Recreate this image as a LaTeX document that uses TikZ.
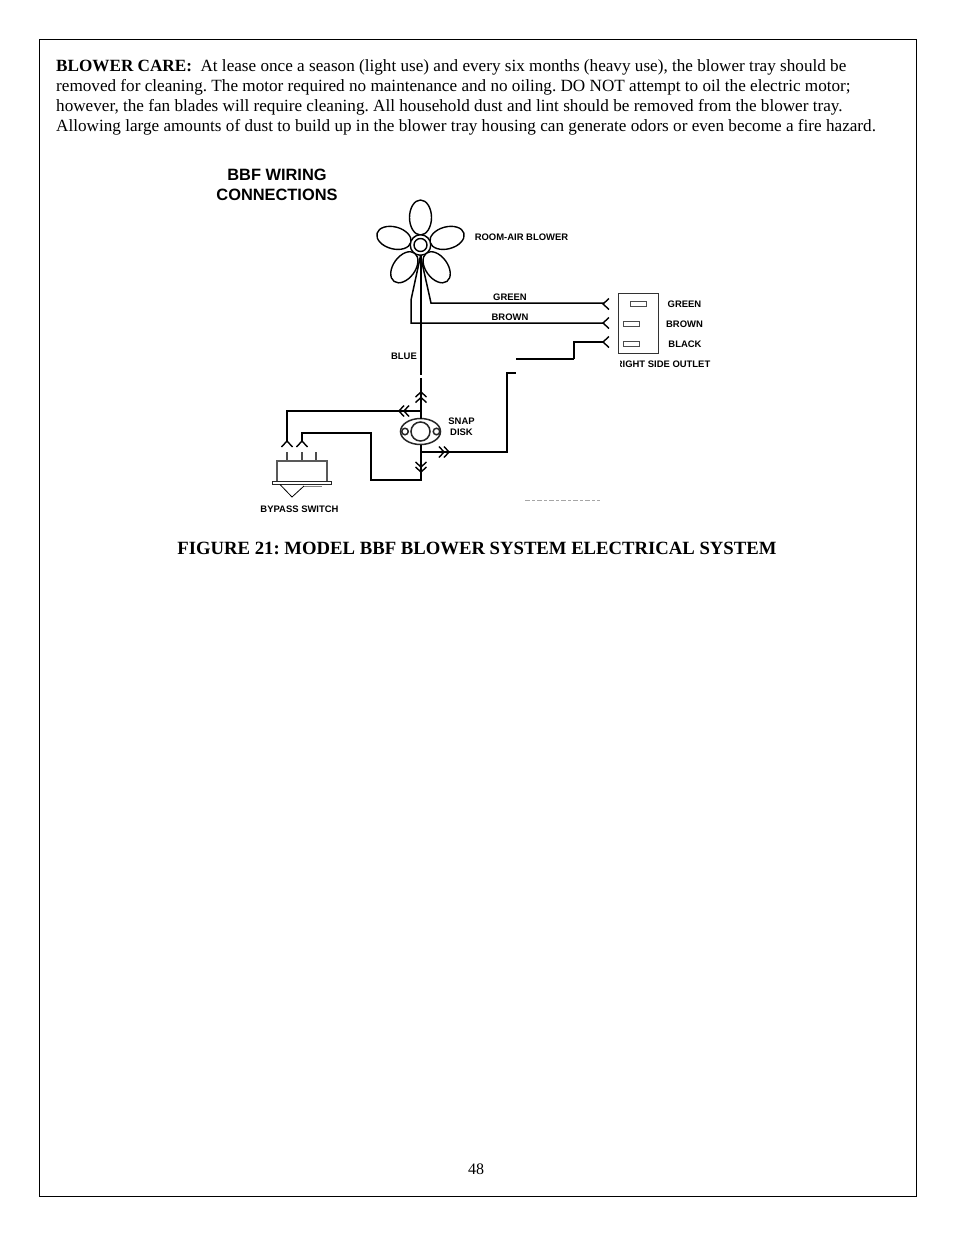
\documentclass[tikz,border=0pt]{standalone}
\usepackage{fontspec}
\setmainfont{Liberation Serif}
\newfontfamily\lsans{Liberation Sans}
\usetikzlibrary{calc,shapes.geometric}
\tikzset{
  body/.style={anchor=base west,inner sep=0pt,font=\fontsize{17.15}{20}\selectfont},
  lab/.style={inner sep=0pt,font=\lsans\bfseries\fontsize{9.45}{11}\selectfont},
  wire/.style={draw=black,line width=1.5pt,line join=miter},
  thin wire/.style={draw=black,line width=1.4pt},
  part/.style={draw=black!85,line width=1.5pt,fill=white},
  slot/.style={draw=black!70,line width=1pt,inner sep=0pt},
}
\newcommand{\chev}[4]{%
  \draw[thin wire,shift={(#1,#2)},rotate=#3] (-#4,5.5) -- (0,0) -- (-#4,-5.5);}
\begin{document}
\frenchspacing
\begin{tikzpicture}[x=1pt,y=-1pt]
\useasboundingbox (0,0) rectangle (954,1235);
\fill[white] (0,0) rectangle (954,1235);
\draw[black,line width=1pt] (39,39) rectangle (916,1196);
% text
\node[body] (t1) at (56,71) {\textbf{BLOWER CARE:}\ \ At lease once a season (light use) and every six months (heavy use), the blower tray should be};
\node[body] (t2) at (56,91) {removed for cleaning. The motor required no maintenance and no oiling. DO NOT attempt to oil the electric motor;};
\node[body] (t3) at (56,111) {however, the fan blades will require cleaning. All household dust and lint should be removed from the blower tray.};
\node[body] (t4) at (56,131) {Allowing large amounts of dust to build up in the blower tray housing can generate odors or even become a fire hazard.};
\node[inner sep=0pt,align=center,font=\lsans\bfseries\fontsize{16.4}{20.5}\selectfont] (title) at (277,185) {BBF WIRING\\CONNECTIONS};
\node[anchor=base,inner sep=0pt,font=\bfseries\fontsize{18.7}{22}\selectfont] (cap) at (477,554) {FIGURE 21: MODEL BBF BLOWER SYSTEM ELECTRICAL SYSTEM};
\node[anchor=base,inner sep=0pt,font=\fontsize{16}{20}\selectfont] (pg) at (476,1174) {48};
% blower
\coordinate (hub) at (420.5,245);
\foreach \a in {90,15,165,234,306}{
  \draw[black,line width=1.4pt,shift={($(hub)+({27.5*cos(\a)},{-27.5*sin(\a)})$)},rotate=\a] (0,0) ellipse [x radius=17.5,y radius=11];
}
\node[circle,draw=black,line width=1.4pt,fill=white,minimum size=20.5pt,inner sep=0pt] (ring) at (hub) {};
\node[circle,draw=black,line width=1.4pt,minimum size=13pt,inner sep=0pt] (core) at (hub) {};
\coordinate (gbend) at (431,303);
\coordinate (bbend) at (411,300);
\coordinate (bcorner) at (411,323);
\coordinate (gtip) at (604,303);
\coordinate (btip) at (604,323);
\coordinate (bltip) at (604,342);
\coordinate (blup) at (574,342);
\coordinate (bldown) at (574,359);
\coordinate (blend) at (516,359);
\draw[wire] (ring.south) -- (gbend) -- (gtip);
\draw[wire] (ring.south) -- (bbend) -- (bcorner) -- (btip);
\draw[wire] (bltip) -- (blup) -- (bldown);
\draw[draw=black,line width=1.1pt] (bldown) -- (blend);
\coordinate (bluegap) at (421,374.5);
\coordinate (blueres) at (421,378);
\draw[wire] (421,255) -- (bluegap);
% snap disk
\node[ellipse,part,minimum width=40pt,minimum height=26pt,inner sep=0pt] (disk) at (420.5,431.5) {};
\node[circle,part,minimum size=19pt,inner sep=0pt] (dc) at (disk) {};
\node[circle,part,minimum size=6.5pt,inner sep=0pt] (dl) at (405,431.5) {};
\node[circle,part,minimum size=6.5pt,inner sep=0pt] (dr) at (436.5,431.5) {};
\draw[wire] (blueres) -- (421,418.5);
\coordinate (j1) at (421,411);
\coordinate (a1) at (287,411);
\coordinate (a2) at (287,442);
\draw[wire] (j1) -- (a1) -- (a2);
\coordinate (j2) at (421,452);
\coordinate (c1) at (507,452);
\coordinate (c2) at (507,373);
\coordinate (c3) at (516,373);
\draw[wire] (421,444.5) -- (421,480) -- (371,480) -- (371,433) -- (302,433) -- (302,442);
\draw[wire] (j2) -- (c1) -- (c2) -- (c3);
% chevrons
\chev{603}{304}{180}{6}
\chev{603}{323}{180}{6}
\chev{603}{342}{180}{6}
\chev{399}{411}{180}{5}
\chev{404}{411}{180}{5}
\chev{421}{392}{90}{5}
\chev{421}{397.5}{90}{5}
\chev{421}{467}{-90}{5}
\chev{421}{472}{-90}{5}
\chev{444}{452}{0}{5}
\chev{449}{452}{0}{5}
\chev{287}{441}{90}{6}
\chev{302}{441}{90}{6}
% switch
\foreach \x in {287,302,316}{\draw[black!70,line width=2pt] (\x,452) -- (\x,461);}
\node[part,draw=black!65,minimum width=50pt,minimum height=21pt,inner sep=0pt] (sw) at (302,471.5) {};
\node[part,minimum width=59pt,minimum height=3pt,inner sep=0pt] (fl) at (302,483) {};
\coordinate (v1) at (280,484.5);
\coordinate (v2) at (292,497);
\coordinate (v3) at (304,486);
\coordinate (v4) at (322,486);
\draw[black,line width=.8pt] (v1) -- (v2) -- (v3);
\draw[black!50,line width=1pt] (v3) -- (v4);
% outlet
\node[draw=black!80,line width=.9pt,minimum width=40pt,minimum height=60pt,inner sep=0pt] (out) at (638,323) {};
\node[slot,minimum width=16pt,minimum height=5pt] (s1) at (638,304) {};
\node[slot,minimum width=16pt,minimum height=5pt] (s2) at (631,323.5) {};
\node[slot,minimum width=16pt,minimum height=5pt] (s3) at (631,343.5) {};
% labels
\node[lab] (l1) at (521.5,237) {ROOM-AIR BLOWER};
\node[lab] (l2) at (510,297.5) {GREEN};
\node[lab] (l3) at (510,317.5) {BROWN};
\node[lab] (l4) at (404,356.5) {BLUE};
\node[lab] (l5) at (684.5,304.5) {GREEN};
\node[lab] (l6) at (684.5,324.5) {BROWN};
\node[lab] (l7) at (685,344.5) {BLACK};
\begin{scope}
\clip (620,355) rectangle (720,372);
\node[lab,anchor=east] (l8) at (710.5,364.5) {RIGHT SIDE OUTLET};
\end{scope}
\node[lab,align=center] (l9) at (461.5,427) {SNAP\\DISK};
\node[lab] (l10) at (299.5,509.5) {BYPASS SWITCH};
\draw[black!35,line width=.8pt,dash pattern=on 5pt off 2pt on 3pt off 2pt] (525,500.5) -- (600,500.5);
\end{tikzpicture}
\end{document}
